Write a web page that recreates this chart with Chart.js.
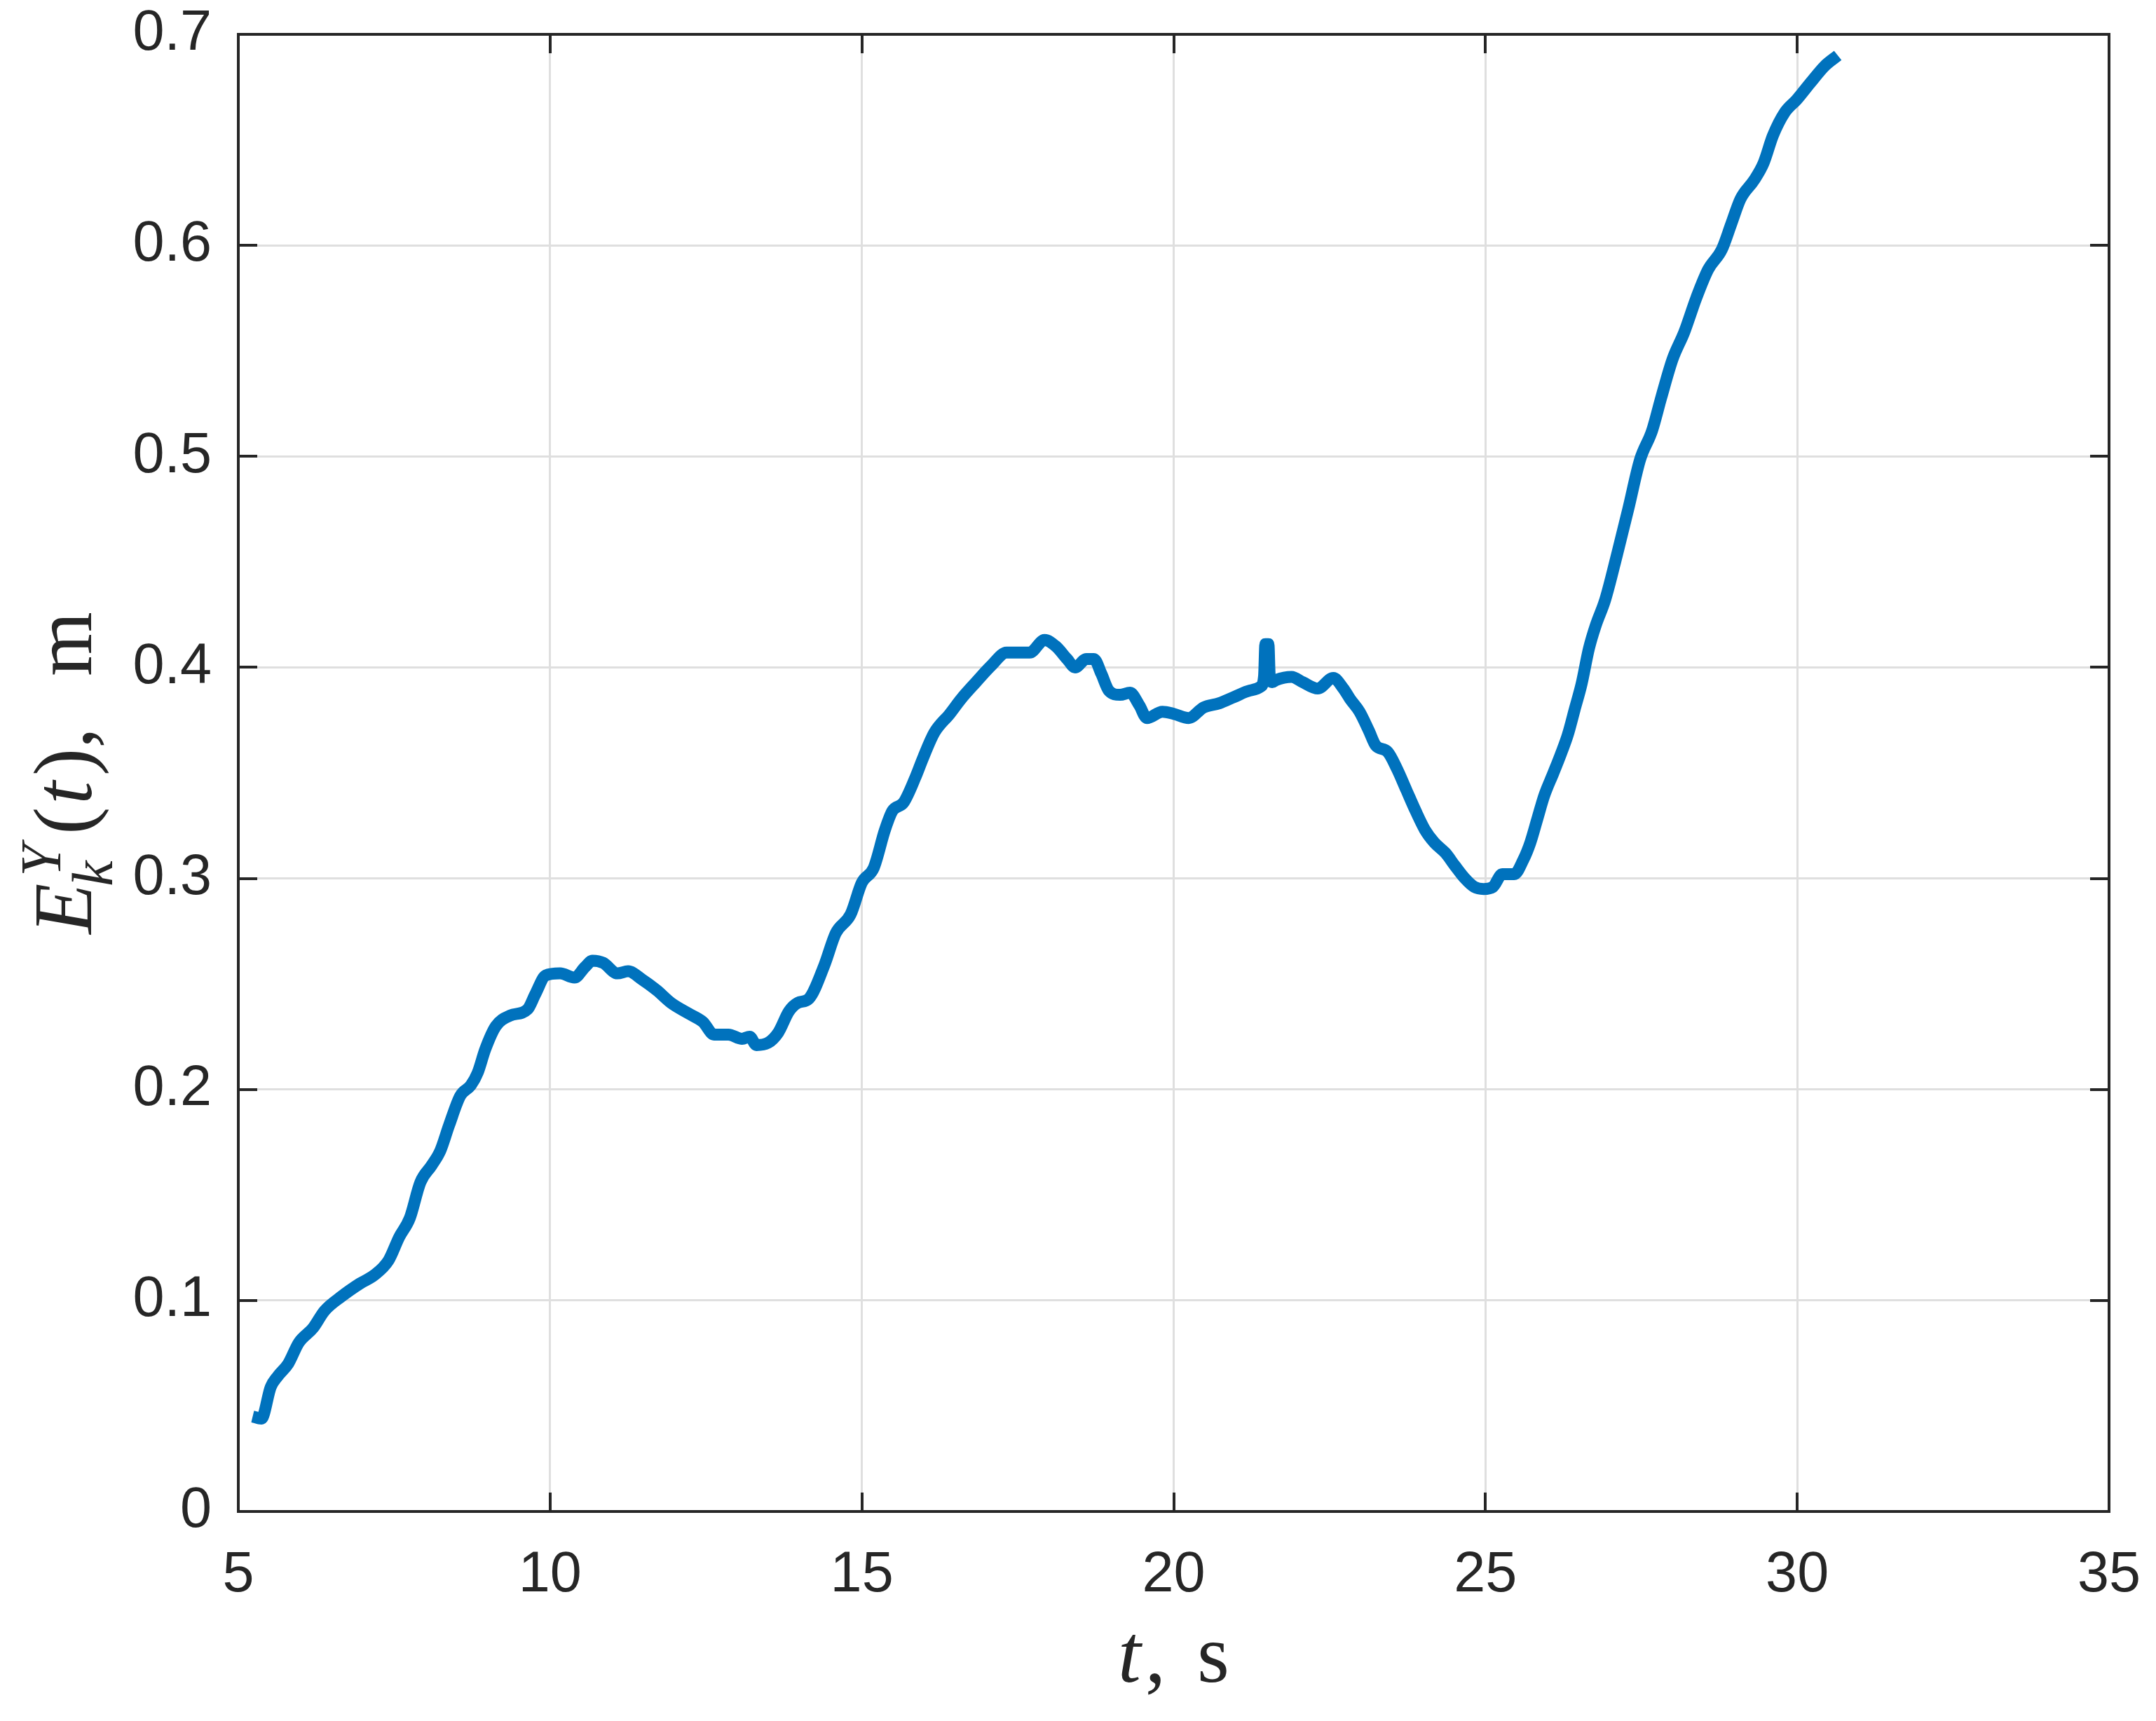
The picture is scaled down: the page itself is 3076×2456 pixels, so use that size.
<!DOCTYPE html>
<html>
<head>
<meta charset="utf-8">
<script src="https://cdn.jsdelivr.net/npm/chart.js@4/dist/chart.umd.min.js"></script>
<style>
  html, body { margin: 0; padding: 0; background: #ffffff; }
  #wrap { width: 3076px; height: 2456px; }
</style>
</head>
<body>
<div id="wrap"><canvas id="c" width="3076" height="2456"></canvas></div>
<script>
// ---- data ----
const timeS = [5.23,5.37,5.52,5.63,5.80,5.97,6.20,6.38,6.66,6.95,7.18,7.41,7.58,7.75,7.92,8.10,8.24,8.38,8.56,8.73,8.84,8.96,9.13,9.36,9.64,9.76,9.93,10.16,10.39,10.56,10.68,10.85,11.08,11.25,11.48,11.71,11.94,12.22,12.45,12.63,12.86,13.08,13.20,13.31,13.49,13.66,13.83,13.97,14.15,14.40,14.58,14.82,15.00,15.19,15.37,15.49,15.67,15.86,15.98,16.16,16.41,16.59,16.83,17.08,17.32,17.69,17.93,18.11,18.29,18.42,18.60,18.72,18.84,18.96,19.14,19.30,19.45,19.57,19.82,20.00,20.24,20.48,20.73,20.97,21.22,21.40,21.45,21.47,21.52,21.54,21.58,21.64,21.89,22.07,22.31,22.56,22.72,22.83,22.98,23.13,23.24,23.43,23.58,23.73,23.88,24.03,24.18,24.36,24.51,24.67,24.82,24.97,25.12,25.27,25.46,25.61,25.72,25.83,25.94,26.09,26.21,26.32,26.43,26.54,26.66,26.77,26.92,27.11,27.29,27.48,27.67,27.82,28.00,28.19,28.38,28.57,28.79,28.94,29.09,29.31,29.46,29.61,29.80,29.99,30.21,30.44,30.65];
const errorM = [0.045,0.044,0.059,0.064,0.070,0.080,0.087,0.095,0.102,0.108,0.112,0.119,0.130,0.139,0.156,0.164,0.171,0.183,0.197,0.202,0.208,0.219,0.230,0.235,0.238,0.245,0.254,0.255,0.253,0.258,0.261,0.260,0.255,0.256,0.252,0.247,0.241,0.236,0.232,0.226,0.226,0.224,0.225,0.221,0.222,0.227,0.237,0.241,0.243,0.259,0.274,0.283,0.298,0.305,0.323,0.332,0.336,0.348,0.357,0.369,0.378,0.385,0.393,0.401,0.407,0.407,0.413,0.410,0.404,0.400,0.404,0.404,0.397,0.389,0.387,0.388,0.382,0.376,0.379,0.378,0.376,0.381,0.383,0.386,0.389,0.391,0.396,0.411,0.411,0.396,0.393,0.394,0.3955,0.393,0.390,0.395,0.390,0.385,0.379,0.370,0.363,0.360,0.352,0.342,0.332,0.323,0.317,0.312,0.306,0.300,0.296,0.295,0.296,0.302,0.302,0.309,0.317,0.328,0.339,0.350,0.359,0.368,0.380,0.392,0.409,0.420,0.432,0.4535,0.475,0.4985,0.512,0.528,0.546,0.559,0.575,0.5885,0.598,0.610,0.622,0.631,0.639,0.652,0.663,0.669,0.677,0.685,0.690];
const xTicks = [5,10,15,20,25,30,35];
const yTicks = [0,0.1,0.2,0.3,0.4,0.5,0.6,0.7];

const points = timeS.map((t, i) => ({ x: t, y: errorM[i] }));

const AX = '#262626';
const SERIF = '"Liberation Serif", "DejaVu Serif", serif';

const boxAndTicks = {
  id: 'boxAndTicks',
  afterDatasetsDraw(chart) {
    const { ctx, chartArea: a, scales } = chart;
    const L = 27;
    ctx.save();
    ctx.strokeStyle = AX;
    ctx.lineWidth = 4;
    ctx.beginPath();
    xTicks.forEach(v => {
      const px = Math.round(scales.x.getPixelForValue(v));
      ctx.moveTo(px, a.bottom); ctx.lineTo(px, a.bottom - L);
      ctx.moveTo(px, a.top); ctx.lineTo(px, a.top + L);
    });
    yTicks.forEach(v => {
      const py = Math.round(scales.y.getPixelForValue(v));
      ctx.moveTo(a.left, py); ctx.lineTo(a.left + L, py);
      ctx.moveTo(a.right, py); ctx.lineTo(a.right - L, py);
    });
    ctx.stroke();
    ctx.strokeRect(a.left, a.top, a.right - a.left, a.bottom - a.top);
    ctx.restore();
  },
  afterDraw(chart) {
    const { ctx, chartArea: a } = chart;
    const fs = 118, fsSmall = 82;
    ctx.save();
    ctx.fillStyle = AX;
    ctx.textBaseline = 'alphabetic';
    ctx.textAlign = 'left';
    // x title: t, s
    const fI = 'italic ' + fs + 'px ' + SERIF;
    const fR = fs + 'px ' + SERIF;
    ctx.font = fI; const wt = ctx.measureText('t').width;
    ctx.font = fR; const wc = ctx.measureText(',').width; const ws = ctx.measureText('s').width;
    const gap = 0.38 * fs;
    const totalX = wt + 6 + wc + gap + ws;
    let x0 = (a.left + a.right) / 2 - totalX / 2;
    const by = 2400;
    ctx.font = fI; ctx.fillText('t', x0, by); x0 += wt + 6;
    ctx.font = fR; ctx.fillText(',', x0, by); x0 += wc + gap;
    ctx.fillText('s', x0, by);

    // y title: E_k^Y(t), m (rotated)
    const cy = (a.top + a.bottom) / 2;
    ctx.translate(130, cy);
    ctx.rotate(-Math.PI / 2);
    const fIs = 'italic ' + fsSmall + 'px ' + SERIF;
    ctx.font = fI; const wE = ctx.measureText('E').width;
    ctx.font = fIs; const wY = ctx.measureText('Y').width; const wk = ctx.measureText('k').width;
    const wSS = Math.max(wY + 6, wk + 0);
    ctx.font = fR; const wLp = ctx.measureText('(').width, wRp = ctx.measureText(')').width;
    const wComma = ctx.measureText(',').width, wm = ctx.measureText('m').width;
    ctx.font = fI; const wt2 = ctx.measureText('t').width;
    const gap2 = 0.62 * fs;
    const total = wE + 4 + wSS + 14 + wLp + 4 + wt2 + 8 + wRp + wComma + gap2 + wm;
    let xx = -total / 2;
    ctx.font = fI; ctx.fillText('E', xx, 0); xx += wE + 4;
    ctx.font = fIs; ctx.fillText('Y', xx + 6, -44); ctx.fillText('k', xx - 8, 30); xx += wSS + 14;
    ctx.font = fR; ctx.fillText('(', xx, 0); xx += wLp + 4;
    ctx.font = fI; ctx.fillText('t', xx, 0); xx += wt2 + 8;
    ctx.font = fR; ctx.fillText(')', xx, 0); xx += wRp;
    ctx.fillText(',', xx, 0); xx += wComma + gap2;
    ctx.fillText('m', xx, 0);
    ctx.restore();
  }
};

new Chart(document.getElementById('c'), {
  type: 'line',
  data: {
    datasets: [{
      data: points,
      borderColor: '#0072BD',
      backgroundColor: '#0072BD',
      borderWidth: 17,
      pointRadius: 0,
      cubicInterpolationMode: 'monotone',
      fill: false,
      borderJoinStyle: 'round',
      borderCapStyle: 'butt'
    }]
  },
  options: {
    responsive: false,
    animation: false,
    devicePixelRatio: 1,
    layout: { padding: { top: 49, right: 67, left: 0, bottom: 0 } },
    plugins: { legend: { display: false }, tooltip: { enabled: false } },
    scales: {
      x: {
        type: 'linear', min: 5, max: 35,
        afterBuildTicks: s => { s.ticks = xTicks.map(v => ({ value: v })); },
        afterFit: s => { s.height = 299; s.paddingLeft = 0; s.paddingRight = 0; s.paddingTop = 0; s.paddingBottom = 0; },
        ticks: { color: AX, font: { family: '"Liberation Sans", Arial, sans-serif', size: 81 }, padding: 43, maxRotation: 0 },
        grid: { color: '#dfdfdf', lineWidth: 3, drawTicks: false },
        border: { display: false }
      },
      y: {
        type: 'linear', min: 0, max: 0.7,
        afterBuildTicks: s => { s.ticks = yTicks.map(v => ({ value: v })); },
        afterFit: s => { s.width = 340; s.paddingLeft = 0; s.paddingRight = 0; s.paddingTop = 0; s.paddingBottom = 0; },
        ticks: { color: AX, font: { family: '"Liberation Sans", Arial, sans-serif', size: 81 }, padding: 38,
                 callback: v => (v === 0 ? '0' : v.toFixed(1)) },
        grid: { color: '#dfdfdf', lineWidth: 3, drawTicks: false },
        border: { display: false }
      }
    }
  },
  plugins: [boxAndTicks]
});
</script>
</body>
</html>
